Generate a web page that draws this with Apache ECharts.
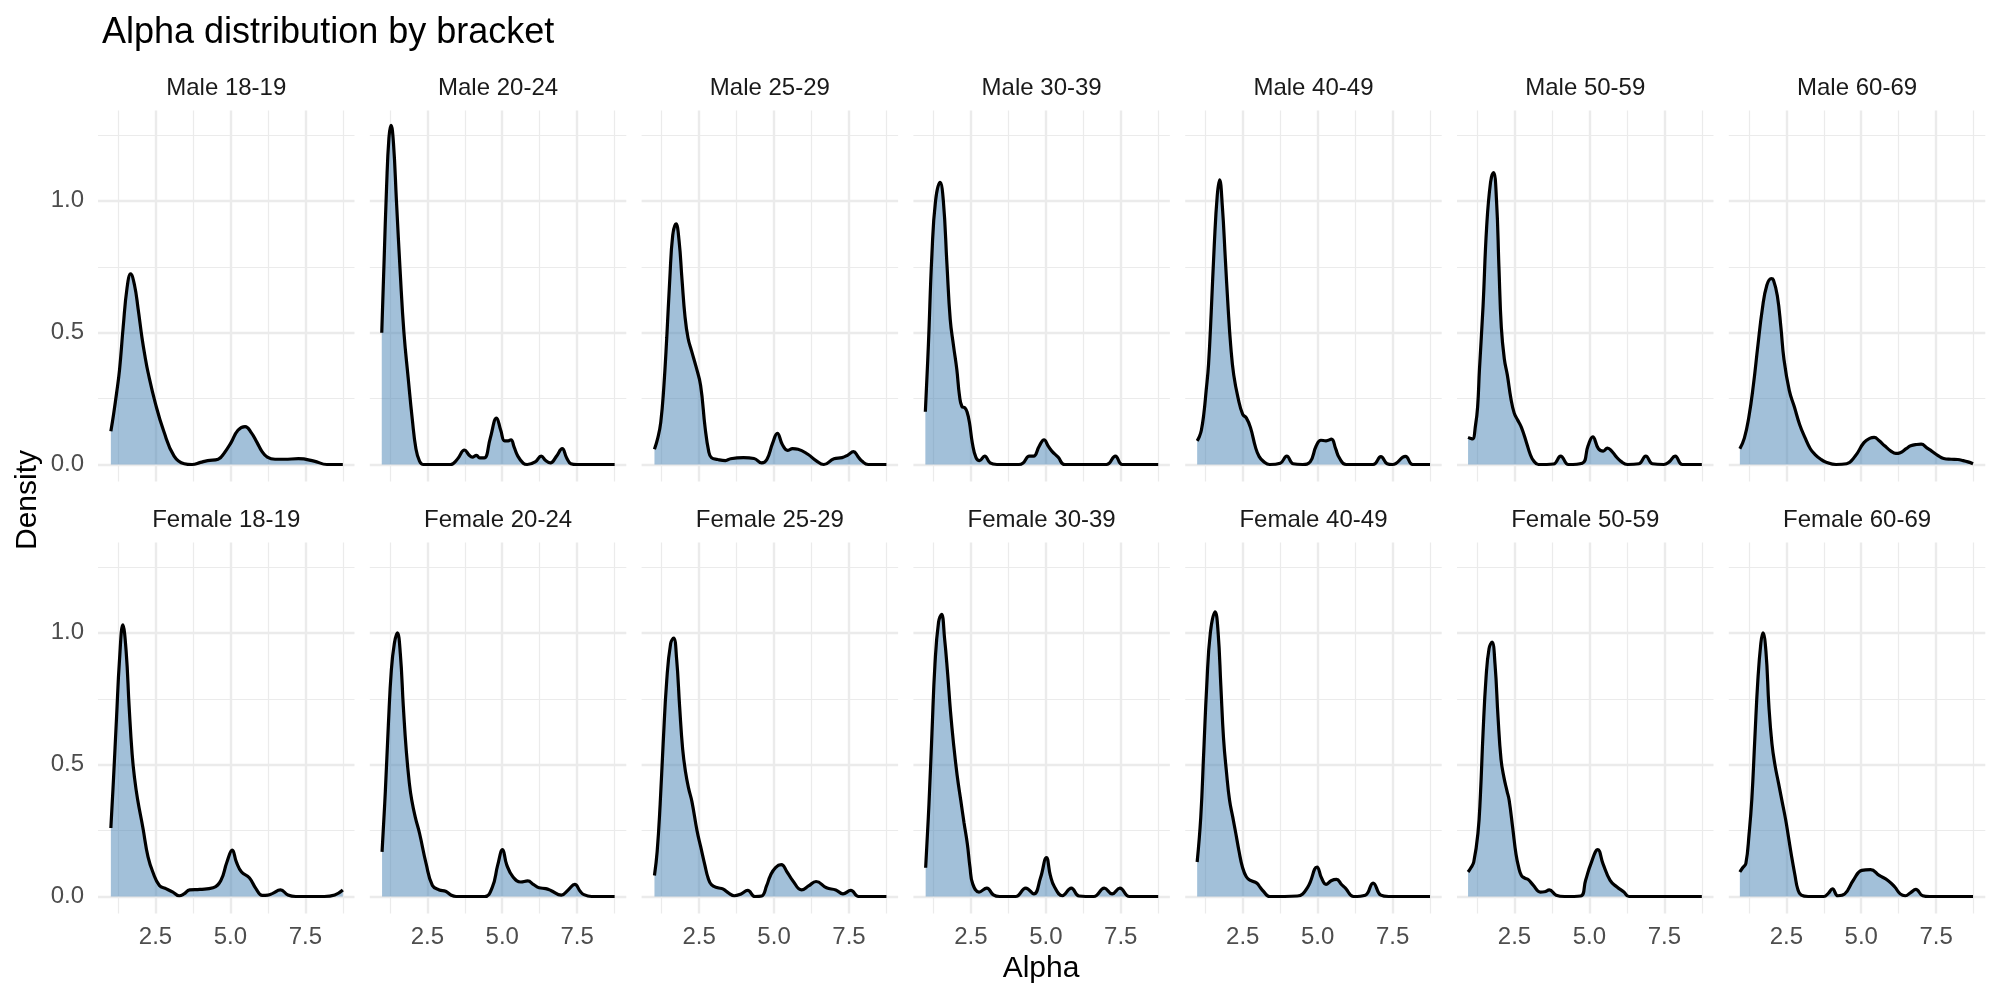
<!DOCTYPE html>
<html><head><meta charset="utf-8">
<script src="https://cdn.jsdelivr.net/npm/echarts@6/dist/echarts.min.js"></script>
<style>html,body{margin:0;padding:0;background:#fff}#c{width:2000px;height:1000px}</style>
</head><body><div id="c"></div>
<script>
// ---------- data ----------
const panelNames = ['Male 18-19','Male 20-24','Male 25-29','Male 30-39','Male 40-49','Male 50-59','Male 60-69',
                    'Female 18-19','Female 20-24','Female 25-29','Female 30-39','Female 40-49','Female 50-59','Female 60-69'];
const xTickLabels = [2.5, 5.0, 7.5];
const xMinorGrid = [1.25, 3.75, 6.25, 8.75];
const yTickLabels = [0.0, 0.5, 1.0];
const yMinorGrid = [0.25, 0.75, 1.25];
const xRange = [0.581, 9.139];
const yRange = [-0.064, 1.343];

const male_18_19 = [[1.01,0.126],[1.1,0.19],[1.2,0.27],[1.3,0.36],[1.42,0.52],[1.55,0.67],[1.67,0.723],[1.8,0.68],[1.92,0.59],[2.05,0.48],[2.15,0.41],[2.25,0.35],[2.5,0.23],[2.77,0.128],[3.12,0.032],[3.46,0.003],[3.72,0.0],[4.0,0.008],[4.24,0.015],[4.59,0.02],[4.8,0.045],[5.02,0.083],[5.25,0.13],[5.49,0.144],[5.7,0.12],[5.89,0.083],[6.05,0.05],[6.23,0.028],[6.49,0.02],[6.8,0.02],[7.27,0.022],[7.79,0.013],[8.22,0.0],[8.75,0.0]];
const male_20_24 = [[0.98,0.5],[1.06,0.78],[1.14,1.05],[1.22,1.24],[1.29,1.286],[1.37,1.22],[1.47,1.0],[1.6,0.72],[1.72,0.5],[1.86,0.33],[2.0,0.17],[2.12,0.06],[2.24,0.013],[2.37,0.0],[3.27,0.0],[3.5,0.02],[3.74,0.055],[3.9,0.035],[4.0,0.028],[4.14,0.035],[4.25,0.025],[4.4,0.025],[4.6,0.1],[4.81,0.176],[4.95,0.13],[5.08,0.09],[5.2,0.09],[5.29,0.094],[5.4,0.065],[5.52,0.032],[5.7,0.005],[5.83,0.0],[6.1,0.01],[6.3,0.032],[6.45,0.015],[6.61,0.006],[6.8,0.03],[7.0,0.06],[7.15,0.025],[7.29,0.003],[7.5,0.0],[8.75,0.0]];
const male_25_29 = [[1.01,0.058],[1.12,0.1],[1.22,0.16],[1.32,0.29],[1.42,0.48],[1.52,0.7],[1.62,0.87],[1.73,0.913],[1.83,0.85],[1.93,0.7],[2.03,0.56],[2.13,0.48],[2.25,0.43],[2.4,0.37],[2.55,0.3],[2.7,0.14],[2.82,0.05],[2.91,0.026],[3.12,0.019],[3.38,0.015],[3.55,0.022],[3.98,0.026],[4.33,0.023],[4.59,0.006],[4.76,0.019],[4.95,0.08],[5.11,0.118],[5.28,0.075],[5.45,0.054],[5.62,0.06],[5.8,0.058],[6.14,0.038],[6.4,0.015],[6.66,0.0],[7.0,0.022],[7.27,0.026],[7.45,0.035],[7.65,0.049],[7.8,0.03],[7.93,0.013],[8.14,0.0],[8.75,0.0]];
const male_30_39 = [[0.98,0.2],[1.08,0.45],[1.2,0.8],[1.32,1.0],[1.47,1.07],[1.58,1.0],[1.7,0.76],[1.81,0.55],[1.92,0.45],[2.03,0.36],[2.12,0.26],[2.2,0.22],[2.3,0.215],[2.37,0.2],[2.45,0.16],[2.55,0.08],[2.67,0.026],[2.79,0.015],[2.96,0.032],[3.14,0.006],[3.37,0.0],[4.1,0.0],[4.24,0.006],[4.45,0.032],[4.59,0.032],[4.78,0.07],[4.94,0.094],[5.08,0.07],[5.2,0.051],[5.41,0.028],[5.63,0.0],[7.02,0.0],[7.32,0.032],[7.55,0.0],[8.75,0.0]];
const male_40_49 = [[0.98,0.09],[1.05,0.105],[1.12,0.13],[1.2,0.19],[1.28,0.28],[1.36,0.38],[1.45,0.58],[1.55,0.83],[1.65,1.02],[1.73,1.08],[1.82,0.98],[1.92,0.78],[2.01,0.6],[2.1,0.45],[2.2,0.34],[2.35,0.25],[2.5,0.19],[2.62,0.177],[2.76,0.14],[2.93,0.064],[3.05,0.03],[3.19,0.012],[3.4,0.0],[3.75,0.005],[3.97,0.032],[4.18,0.003],[4.5,0.0],[4.75,0.01],[4.95,0.07],[5.11,0.092],[5.28,0.09],[5.46,0.096],[5.6,0.06],[5.72,0.026],[5.95,0.0],[6.85,0.0],[7.11,0.03],[7.32,0.003],[7.5,0.0],[7.93,0.031],[8.17,0.0],[8.75,0.0]];
const male_50_59 = [[0.95,0.103],[1.02,0.1],[1.1,0.097],[1.2,0.15],[1.27,0.22],[1.33,0.36],[1.45,0.6],[1.57,0.9],[1.7,1.07],[1.8,1.107],[1.9,1.0],[1.98,0.75],[2.06,0.52],[2.16,0.4],[2.26,0.34],[2.38,0.25],[2.49,0.195],[2.6,0.17],[2.73,0.141],[2.9,0.083],[3.02,0.04],[3.13,0.015],[3.3,0.0],[3.8,0.002],[4.04,0.032],[4.3,0.0],[4.76,0.005],[4.95,0.07],[5.11,0.105],[5.3,0.06],[5.46,0.051],[5.6,0.062],[5.75,0.05],[5.89,0.03],[6.04,0.013],[6.27,0.0],[6.65,0.003],[6.88,0.032],[7.1,0.003],[7.48,0.0],[7.66,0.01],[7.86,0.032],[8.1,0.0],[8.75,0.0]];
const male_60_69 = [[0.95,0.06],[1.1,0.1],[1.25,0.18],[1.4,0.3],[1.55,0.45],[1.7,0.59],[1.85,0.68],[2.0,0.705],[2.07,0.7],[2.2,0.64],[2.32,0.52],[2.42,0.4],[2.6,0.28],[2.77,0.218],[2.95,0.15],[3.12,0.103],[3.3,0.06],[3.46,0.038],[3.65,0.02],[3.81,0.01],[4.16,0.0],[4.51,0.003],[4.8,0.032],[5.09,0.083],[5.3,0.1],[5.43,0.103],[5.6,0.09],[5.78,0.071],[6.0,0.05],[6.15,0.042],[6.3,0.045],[6.5,0.06],[6.65,0.071],[6.85,0.076],[7.0,0.077],[7.2,0.062],[7.35,0.051],[7.55,0.035],[7.75,0.023],[8.0,0.02],[8.22,0.019],[8.4,0.015],[8.56,0.01],[8.73,0.003]];
const female_18_19 = [[1.01,0.26],[1.1,0.45],[1.2,0.68],[1.3,0.9],[1.41,1.03],[1.52,0.93],[1.62,0.72],[1.72,0.54],[1.8,0.45],[1.9,0.37],[2.08,0.26],[2.25,0.15],[2.41,0.093],[2.63,0.042],[2.86,0.029],[3.08,0.017],[3.29,0.003],[3.45,0.01],[3.64,0.025],[3.98,0.027],[4.42,0.033],[4.68,0.061],[4.88,0.13],[5.06,0.176],[5.2,0.13],[5.37,0.093],[5.63,0.071],[5.85,0.03],[6.06,0.004],[6.25,0.005],[6.41,0.012],[6.67,0.025],[6.92,0.006],[7.18,0.0],[8.13,0.0],[8.48,0.006],[8.75,0.025]];
const female_20_24 = [[0.99,0.169],[1.1,0.4],[1.2,0.65],[1.3,0.86],[1.4,0.96],[1.5,1.0],[1.6,0.92],[1.7,0.72],[1.8,0.55],[1.9,0.43],[1.98,0.366],[2.1,0.3],[2.24,0.24],[2.46,0.125],[2.67,0.042],[2.9,0.025],[3.11,0.02],[3.3,0.005],[3.46,0.0],[4.41,0.0],[4.67,0.036],[4.85,0.12],[5.01,0.178],[5.15,0.12],[5.36,0.074],[5.62,0.055],[5.85,0.059],[6.05,0.045],[6.23,0.033],[6.45,0.03],[6.62,0.023],[6.97,0.005],[7.2,0.025],[7.42,0.046],[7.6,0.02],[7.71,0.008],[7.98,0.0],[8.75,0.0]];
const female_25_29 = [[1.01,0.08],[1.1,0.17],[1.2,0.35],[1.3,0.58],[1.42,0.82],[1.55,0.96],[1.65,0.98],[1.75,0.9],[1.85,0.72],[1.95,0.56],[2.05,0.47],[2.15,0.41],[2.26,0.36],[2.43,0.25],[2.55,0.19],[2.69,0.12],[2.8,0.07],[2.91,0.045],[3.12,0.033],[3.29,0.029],[3.5,0.012],[3.67,0.003],[3.9,0.01],[4.12,0.023],[4.36,0.0],[4.59,0.002],[4.75,0.04],[4.88,0.08],[5.05,0.11],[5.24,0.121],[5.45,0.09],[5.62,0.061],[5.92,0.025],[6.15,0.04],[6.4,0.057],[6.75,0.033],[7.06,0.025],[7.3,0.01],[7.56,0.023],[7.82,0.0],[8.14,0.0],[8.75,0.0]];
const female_30_39 = [[0.99,0.109],[1.1,0.35],[1.2,0.62],[1.3,0.88],[1.42,1.04],[1.52,1.07],[1.62,0.98],[1.72,0.85],[1.82,0.7],[1.92,0.58],[2.04,0.46],[2.16,0.366],[2.27,0.28],[2.38,0.2],[2.47,0.11],[2.56,0.048],[2.77,0.017],[3.03,0.032],[3.25,0.006],[3.46,0.0],[3.99,0.0],[4.33,0.032],[4.6,0.01],[4.82,0.07],[5.02,0.148],[5.15,0.08],[5.29,0.036],[5.55,0.003],[5.85,0.032],[6.11,0.002],[6.6,0.0],[6.95,0.032],[7.21,0.01],[7.47,0.032],[7.79,0.0],[8.75,0.0]];
const female_40_49 = [[0.98,0.131],[1.1,0.3],[1.2,0.55],[1.3,0.8],[1.42,1.0],[1.58,1.08],[1.68,1.0],[1.77,0.8],[1.86,0.6],[1.96,0.47],[2.06,0.366],[2.17,0.3],[2.27,0.239],[2.38,0.17],[2.49,0.112],[2.62,0.075],[2.76,0.061],[2.97,0.051],[3.08,0.035],[3.19,0.02],[3.4,0.0],[4.32,0.002],[4.67,0.036],[4.98,0.112],[5.13,0.07],[5.28,0.046],[5.45,0.06],[5.63,0.065],[5.8,0.045],[5.92,0.033],[6.2,0.0],[6.59,0.005],[6.85,0.051],[7.11,0.005],[7.37,0.0],[8.75,0.0]];
const female_50_59 = [[0.95,0.093],[1.05,0.11],[1.14,0.131],[1.28,0.24],[1.36,0.38],[1.45,0.62],[1.55,0.83],[1.65,0.94],[1.75,0.965],[1.85,0.88],[1.95,0.68],[2.05,0.52],[2.15,0.45],[2.25,0.4],[2.32,0.366],[2.44,0.26],[2.55,0.16],[2.64,0.11],[2.73,0.08],[2.84,0.07],[2.96,0.064],[3.13,0.042],[3.36,0.017],[3.5,0.018],[3.66,0.025],[3.89,0.005],[4.17,0.0],[4.7,0.002],[4.87,0.061],[5.05,0.125],[5.28,0.178],[5.45,0.125],[5.69,0.061],[5.92,0.036],[6.15,0.017],[6.32,0.0],[8.75,0.0]];
const female_60_69 = [[0.95,0.093],[1.05,0.11],[1.15,0.125],[1.26,0.24],[1.35,0.37],[1.45,0.6],[1.55,0.82],[1.65,0.96],[1.72,1.0],[1.82,0.93],[1.92,0.72],[2.02,0.58],[2.12,0.5],[2.24,0.43],[2.36,0.36],[2.48,0.29],[2.58,0.22],[2.68,0.15],[2.79,0.08],[2.88,0.029],[3.0,0.005],[3.23,0.0],[3.75,0.0],[3.9,0.012],[4.04,0.029],[4.22,0.003],[4.45,0.01],[4.73,0.061],[5.02,0.099],[5.31,0.102],[5.6,0.08],[5.89,0.061],[6.12,0.036],[6.3,0.01],[6.47,0.003],[6.65,0.015],[6.82,0.027],[7.05,0.003],[7.28,0.0],[8.73,0.0]];

const panelData = [male_18_19, male_20_24, male_25_29, male_30_39, male_40_49, male_50_59, male_60_69,
                   female_18_19, female_20_24, female_25_29, female_30_39, female_40_49, female_50_59, female_60_69];

// ---------- layout ----------
const FONT = '"Liberation Sans", Arial, Helvetica, sans-serif';
const COLS = 7, PANEL_LEFT = 98, PANEL_STEP = 271.8, PANEL_W = 256.5;
const ROW_TOP = [110.4, 542.4], PANEL_H = 371;
const GRID_MAJOR = 2.4, GRID_MINOR = 1.2, GRID_COLOR = '#EBEBEB';

const grids = [], xAxes = [], yAxes = [], series = [], graphics = [];
panelNames.forEach((name, i) => {
  const r = Math.floor(i / COLS), c = i % COLS;
  const left = PANEL_LEFT + c * PANEL_STEP, top = ROW_TOP[r];
  grids.push({left: left, top: top, width: PANEL_W, height: PANEL_H, containLabel: false});
  xAxes.push({
    type: 'value', gridIndex: i, min: xRange[0], max: xRange[1],
    axisLine: {show: false}, axisTick: {show: false}, splitLine: {show: false},
    axisLabel: {show: r === 1, customValues: xTickLabels, formatter: v => v.toFixed(1),
                color: '#4D4D4D', fontSize: 24, fontFamily: FONT, margin: 12}
  });
  yAxes.push({
    type: 'value', gridIndex: i, min: yRange[0], max: yRange[1],
    axisLine: {show: false}, axisTick: {show: false}, splitLine: {show: false},
    axisLabel: {show: c === 0, customValues: yTickLabels, formatter: v => v.toFixed(1),
                color: '#4D4D4D', fontSize: 24, fontFamily: FONT, margin: 14}
  });
  const ml = [];
  xTickLabels.forEach(v => ml.push({xAxis: v, lineStyle: {width: GRID_MAJOR}}));
  xMinorGrid.forEach(v => ml.push({xAxis: v, lineStyle: {width: GRID_MINOR}}));
  yTickLabels.forEach(v => ml.push({yAxis: v, lineStyle: {width: GRID_MAJOR}}));
  yMinorGrid.forEach(v => ml.push({yAxis: v, lineStyle: {width: GRID_MINOR}}));
  series.push({
    type: 'line', xAxisIndex: i, yAxisIndex: i, data: [], z: 0, silent: true,
    markLine: {z: 0, silent: true, symbol: ['none', 'none'], label: {show: false}, animation: false,
               lineStyle: {color: GRID_COLOR, type: 'solid'}, data: ml}
  });
  series.push({
    type: 'line', name: name, xAxisIndex: i, yAxisIndex: i, data: panelData[i], z: 3,
    smooth: 0.45, showSymbol: false, symbol: 'none',
    lineStyle: {color: '#000000', width: 3.2},
    areaStyle: {color: '#4682B4', opacity: 0.5}
  });
  graphics.push({type: 'text', x: left + PANEL_W / 2, y: top - 22,
    style: {text: name, fontSize: 24, fontFamily: FONT, fill: '#1A1A1A', textAlign: 'center', textVerticalAlign: 'middle'}});
});
graphics.push({type: 'text', x: 28, y: 500, rotation: Math.PI / 2,
  style: {text: 'Density', fontSize: 30, fontFamily: FONT, fill: '#000000', textAlign: 'center', textVerticalAlign: 'middle'}});
graphics.push({type: 'text', x: 1041, y: 969,
  style: {text: 'Alpha', fontSize: 30, fontFamily: FONT, fill: '#000000', textAlign: 'center', textVerticalAlign: 'middle'}});

const chart = echarts.init(document.getElementById('c'), null, {renderer: 'canvas'});
chart.setOption({
  animation: false,
  backgroundColor: '#ffffff',
  title: {text: 'Alpha distribution by bracket', left: 97, top: 10,
          textStyle: {fontSize: 36, fontWeight: 'normal', color: '#000000', fontFamily: FONT}},
  grid: grids, xAxis: xAxes, yAxis: yAxes, series: series, graphic: graphics
});
</script></body></html>
